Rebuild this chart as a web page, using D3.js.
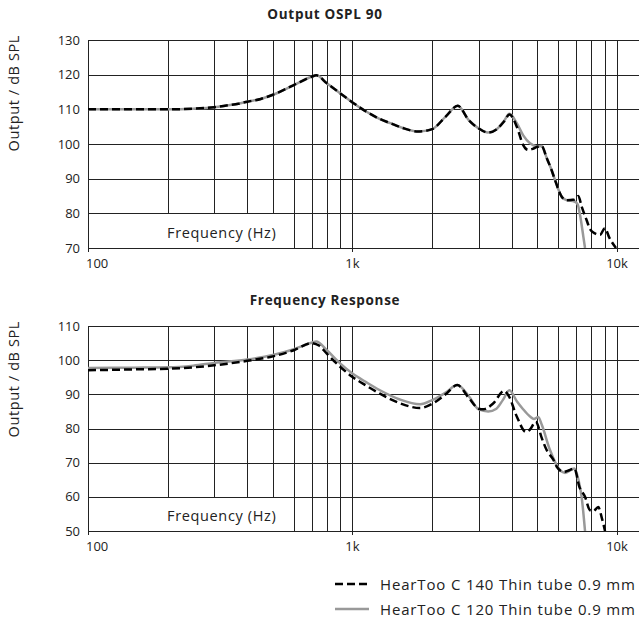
<!DOCTYPE html>
<html>
<head>
<meta charset="utf-8">
<script src="https://d3js.org/d3.v7.min.js"></script>
<style>
  body { margin: 0; background: #fff; }
  text { font-family: "Open Sans", sans-serif; fill: #222; }
</style>
</head>
<body>
<div id="chart"></div>
<script>
// ---- data ----
var xTicks = [100, 1000, 10000];
var xTickLabels = ["100", "1k", "10k"];
var gridFreqs = [200, 300, 400, 500, 600, 700, 800, 900,
                 2000, 3000, 4000, 5000, 6000, 7000, 8000, 9000];

var osplTicks = [70, 80, 90, 100, 110, 120, 130];
var frTicks = [50, 60, 70, 80, 90, 100, 110];

var seriesNames = ["HearToo C 140 Thin tube 0.9 mm", "HearToo C 120 Thin tube 0.9 mm"];

// OSPL 90 - C 140 (dashed)
var osplFreq140 = [100, 200, 250, 300, 340, 370, 400, 450, 500, 600, 700, 730, 800, 900, 1000,
  1130, 1270, 1390, 1550, 1770, 2000, 2250, 2500, 2750, 3000, 3250, 3500, 3750, 3920, 4180,
  4420, 4610, 4800, 5000, 5190, 5420, 5670, 5830, 6180, 6450, 6900, 7140, 7350, 7680, 7900,
  8250, 8620, 9000, 9350, 9910];
var osplVal140 = [110, 110, 110.2, 110.6, 111.2, 111.6, 112.2, 113, 114.2, 117, 119.4, 119.8, 117.5, 114.6, 112,
  109.3, 107.2, 106, 104.6, 103.6, 104.3, 107.9, 111, 106.9, 104.5, 103.3, 104.2, 106.6, 108.5, 105,
  99.7, 98.3, 98.6, 99.2, 99.4, 96, 92.3, 89.6, 84.8, 83.8, 84, 85, 82, 78, 75.5,
  74.2, 73.8, 75.7, 73, 70];

// OSPL 90 - C 120 (grey)
var osplFreq120 = [100, 200, 250, 300, 340, 370, 400, 450, 500, 600, 700, 730, 800, 900, 1000,
  1130, 1270, 1390, 1550, 1770, 2000, 2250, 2500, 2750, 3000, 3250, 3500, 3750, 3920, 4180,
  4420, 4690, 5000, 5190, 5420, 5670, 5830, 6180, 6450, 6900, 7100, 7250, 7460, 7570];
var osplVal120 = [110, 110, 110.2, 110.6, 111.2, 111.6, 112.2, 113, 114.2, 117, 119.4, 119.8, 117.5, 114.6, 112,
  109.3, 107.2, 106, 104.6, 103.6, 104.3, 107.9, 111, 106.9, 104.5, 103.3, 104.2, 106.8, 108.7, 106,
  102.5, 100.2, 99.3, 99.4, 96, 92.3, 89.6, 84.8, 83.8, 83.4, 82.6, 79.5, 73.3, 70];

// Frequency response - C 140 (dashed)
var frFreq140 = [100, 150, 200, 250, 300, 400, 500, 600, 700, 750, 800, 900, 1000, 1130, 1270,
  1510, 1800, 2000, 2250, 2490, 2750, 3000, 3120, 3400, 3740, 3900, 4180, 4530, 4700, 4930,
  5200, 5420, 5750, 5920, 6270, 6600, 6900, 7200, 7570, 7900, 8130, 8500, 8750, 9010];
var frVal140 = [97.05, 97.3, 97.5, 97.9, 98.5, 99.8, 101.1, 102.9, 105, 104.2, 101.9, 98, 95.1, 92.5, 90.2,
  87.4, 86, 87.2, 90, 92.7, 89, 85.8, 85.6, 87.3, 91, 89.5, 83.5, 79, 79.8, 82,
  77.1, 73.7, 70.8, 68.8, 67.3, 67.8, 68.3, 63, 60, 56.1, 55.8, 57, 54, 50];

// Frequency response - C 120 (grey)
var frFreq120 = [100, 150, 200, 250, 300, 400, 500, 600, 700, 730, 800, 900, 1000, 1130, 1270,
  1510, 1800, 2000, 2250, 2490, 2750, 3000, 3260, 3500, 3700, 3920, 4180, 4400, 4690, 4850,
  5040, 5200, 5580, 6090, 6360, 6900, 7150, 7350, 7570];
var frVal120 = [97.7, 97.8, 97.9, 98.4, 99.2, 100.2, 101.5, 103.2, 105.1, 105.5, 102.9, 99, 96.1, 93.5, 91.2,
  88.5, 87.1, 88.3, 90.5, 92.7, 89.5, 85.6, 85, 85.8, 88.3, 91.2, 88, 85.8, 83.5, 82.8,
  83.4, 81, 73.7, 67.8, 67, 68.3, 65, 60, 50];

// ---- layout ----
var svgWidth = 640;
var svgHeight = 617;
var plotLeft = 88;
var plotRight = 639;

var svg = d3.select("#chart")
  .append("svg")
  .attr("width", svgWidth)
  .attr("height", svgHeight);

function zip(f, v) {
  return f.map(function(d, i) { return [d, v[i]]; });
}

function drawPanel(cfg) {
  var g = svg.append("g");

  var x = d3.scaleLog()
    .domain([100, 10000])
    .range([88, 617]);

  var y = d3.scaleLinear()
    .domain([cfg.yTicks[0], cfg.yTicks[cfg.yTicks.length - 1]])
    .range([cfg.bottom, cfg.top]);

  // vertical grid
  g.selectAll(".vgrid")
    .data(gridFreqs.concat(xTicks))
    .enter()
    .append("line")
    .attr("x1", d => Math.round(x(d)) + 0.5)
    .attr("x2", d => Math.round(x(d)) + 0.5)
    .attr("y1", y(cfg.yTicks[cfg.yTicks.length - 1]) + 0.5)
    .attr("y2", d => xTicks.indexOf(d) >= 0 ? cfg.bottom + 4 : cfg.bottom + 0.5)
    .attr("stroke", "#222")
    .attr("stroke-width", 1);

  // horizontal grid
  g.selectAll(".hgrid")
    .data(cfg.yTicks)
    .enter()
    .append("line")
    .attr("x1", plotLeft)
    .attr("x2", plotRight)
    .attr("y1", d => Math.round(y(d)) + 0.5)
    .attr("y2", d => Math.round(y(d)) + 0.5)
    .attr("stroke", "#222")
    .attr("stroke-width", 1);

  // box behind axis title inside plot
  g.append("rect")
    .attr("x", plotLeft + 1)
    .attr("y", Math.round(y(cfg.yTicks[1])) + 1)
    .attr("width", 203)
    .attr("height", Math.round(y(cfg.yTicks[0])) - Math.round(y(cfg.yTicks[1])) - 1)
    .attr("fill", "#fff");

  g.append("text")
    .attr("x", 167)
    .attr("y", cfg.bottom - 10)
    .style("font-size", "14.5px")
    .style("letter-spacing", "0.65px")
    .text("Frequency (Hz)");

  // y tick labels
  g.selectAll(".ylab")
    .data(cfg.yTicks)
    .enter()
    .append("text")
    .attr("x", 80)
    .attr("y", d => y(d) + 4.5)
    .attr("text-anchor", "end")
    .style("font-size", "13px")
    .text(d => d);

  // x tick labels
  g.selectAll(".xlab")
    .data(xTicks)
    .enter()
    .append("text")
    .attr("x", (d, i) => i === 0 ? x(d) - 2 : x(d))
    .attr("y", cfg.bottom + 20)
    .attr("text-anchor", (d, i) => i === 0 ? "start" : "middle")
    .style("font-size", "13px")
    .text((d, i) => xTickLabels[i]);

  // axis title
  g.append("text")
    .attr("transform", `translate(19, ${cfg.top - 5}) rotate(-90)`)
    .attr("text-anchor", "end")
    .style("font-size", "14.5px")
    .style("letter-spacing", "0.6px")
    .text("Output / dB SPL");

  // chart title
  g.append("text")
    .attr("x", 325)
    .attr("y", cfg.top - 21)
    .attr("text-anchor", "middle")
    .style("font-size", "13.5px")
    .style("font-weight", "bold")
    .style("letter-spacing", "0.7px")
    .text(cfg.title);

  // curves
  var clipId = "clip" + cfg.top;
  g.append("clipPath")
    .attr("id", clipId)
    .append("rect")
    .attr("x", plotLeft)
    .attr("y", cfg.top - 5)
    .attr("width", plotRight - plotLeft)
    .attr("height", cfg.bottom - cfg.top + 5);

  var line = d3.line()
    .x(d => x(d[0]))
    .y(d => y(d[1]))
    .curve(d3.curveMonotoneX);

  g.append("path")
    .attr("clip-path", `url(#${clipId})`)
    .attr("d", line(cfg.grey))
    .attr("fill", "none")
    .attr("stroke", "#999")
    .attr("stroke-width", 2.5);

  g.append("path")
    .attr("clip-path", `url(#${clipId})`)
    .attr("d", line(cfg.dashed))
    .attr("fill", "none")
    .attr("stroke", "#000")
    .attr("stroke-width", 2.5)
    .attr("stroke-dasharray", "8,4");
}

drawPanel({
  title: "Output OSPL 90",
  top: 40,
  bottom: 248,
  yTicks: osplTicks,
  dashed: zip(osplFreq140, osplVal140),
  grey: zip(osplFreq120, osplVal120)
});

drawPanel({
  title: "Frequency Response",
  top: 326,
  bottom: 531,
  yTicks: frTicks,
  dashed: zip(frFreq140, frVal140),
  grey: zip(frFreq120, frVal120)
});

// legend
var legend = svg.append("g");
var legendStyles = [
  { stroke: "#000", dash: "8,4", y: 584 },
  { stroke: "#999", dash: null, y: 609 }
];

legend.selectAll("line")
  .data(legendStyles)
  .enter()
  .append("line")
  .attr("x1", 335)
  .attr("x2", 369)
  .attr("y1", d => d.y)
  .attr("y2", d => d.y)
  .attr("stroke", d => d.stroke)
  .attr("stroke-width", 2.5)
  .attr("stroke-dasharray", d => d.dash);

legend.selectAll("text")
  .data(seriesNames)
  .enter()
  .append("text")
  .attr("x", 380)
  .attr("y", (d, i) => legendStyles[i].y + 5.5)
  .style("font-size", "15px")
  .style("letter-spacing", "0.85px")
  .text(d => d);
</script>
</body>
</html>
